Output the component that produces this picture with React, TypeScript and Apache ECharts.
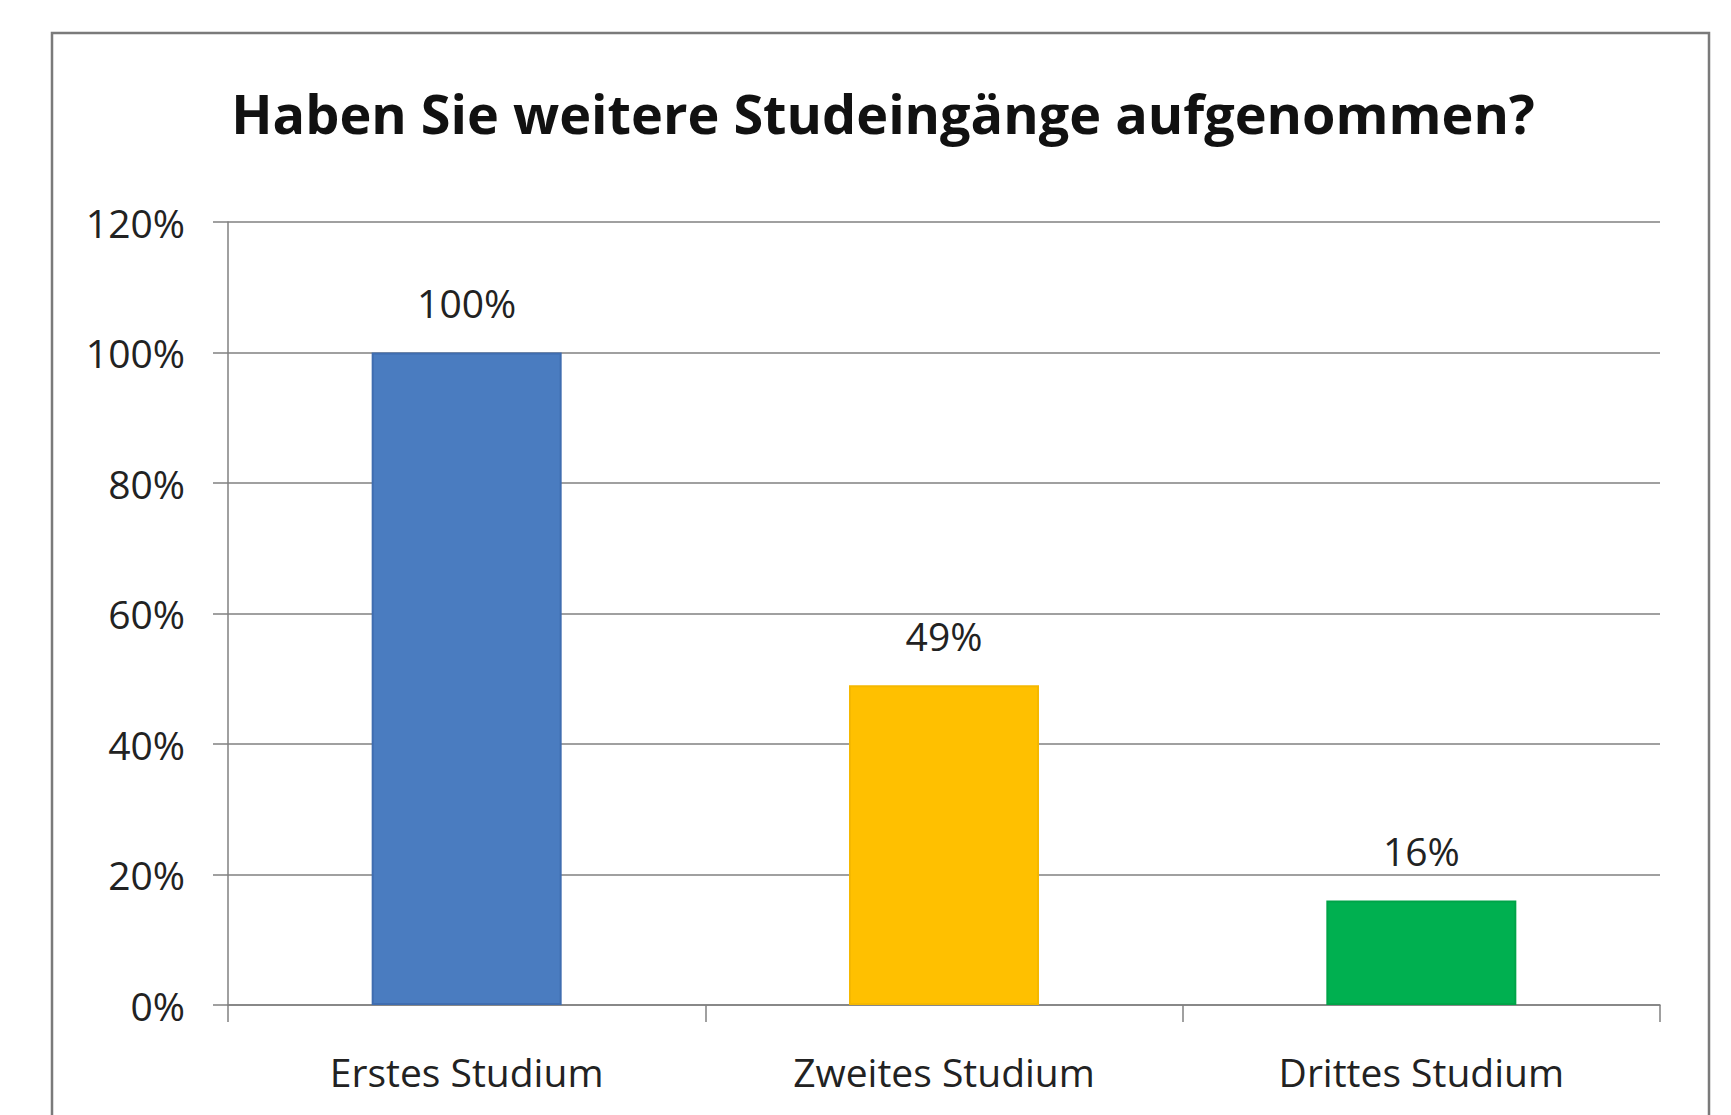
import React, { useEffect, useRef } from "react";
import * as echarts from "echarts";

const titleText = "Haben Sie weitere Studeingänge aufgenommen?";
const categories = ["Erstes Studium", "Zweites Studium", "Drittes Studium"];
const values = [100, 49, 16];
const barColors = ["#4A7CC0", "#FFC000", "#00B050"];
const barBorders = ["#3F6DB0", "#F5B800", "#00A448"];
const yTicks = [0, 20, 40, 60, 80, 100, 120];

export default function App() {
  const ref = useRef<HTMLDivElement>(null);
  useEffect(() => {
    document.body.style.margin = "0";
    const chart = echarts.init(ref.current!, undefined, { renderer: "svg" });
    const font = "'Open Sans', sans-serif";
    chart.setOption({
      animation: false,
      backgroundColor: "#ffffff",
      graphic: [
        {
          type: "rect",
          shape: { x: 52, y: 33, width: 1657, height: 1120 },
          style: { fill: "none", stroke: "#7a7a7a", lineWidth: 2.5 },
          z: 0,
        },
        {
          type: "text",
          x: 883,
          y: 113,
          style: {
            text: titleText,
            font: `bold 54px ${font}`,
            fill: "#111111",
            textAlign: "center",
            textVerticalAlign: "middle",
          },
        },
      ],
      grid: { left: 228, right: 1731 - 1660, top: 222, bottom: 1115 - 1005, containLabel: false },
      xAxis: {
        type: "category",
        data: categories,
        axisLine: { show: true, lineStyle: { color: "#808080", width: 1.5 } },
        axisTick: { show: true, length: 17, lineStyle: { color: "#808080", width: 1.5 } },
        axisLabel: {
          margin: 46,
          fontFamily: font,
          fontSize: 39,
          lineHeight: 40,
          color: "#222222",
        },
      },
      yAxis: {
        type: "value",
        min: 0,
        max: 120,
        interval: 20,
        axisLine: { show: true, lineStyle: { color: "#808080", width: 1.5 } },
        axisTick: { show: true, length: 15, lineStyle: { color: "#808080", width: 1.5 } },
        splitLine: { show: true, lineStyle: { color: "#808080", width: 1.5 } },
        axisLabel: {
          margin: 43,
          fontFamily: font,
          fontSize: 39,
          color: "#222222",
          formatter: (v: number) => (yTicks.includes(v) ? `${v}%` : ""),
        },
      },
      series: [
        {
          type: "bar",
          barWidth: 190,
          data: values.map((v, i) => ({
            value: v,
            itemStyle: { color: barColors[i], borderColor: barBorders[i], borderWidth: 2 },
          })),
          label: {
            show: true,
            position: "top",
            distance: 30,
            fontFamily: font,
            fontSize: 39,
            lineHeight: 40,
            color: "#222222",
            formatter: (p: any) => `${p.value}%`,
          },
        },
      ],
    });
    return () => chart.dispose();
  }, []);
  return <div ref={ref} style={{ position: "fixed", left: 0, top: 0, width: 1731, height: 1115 }} />;
}
